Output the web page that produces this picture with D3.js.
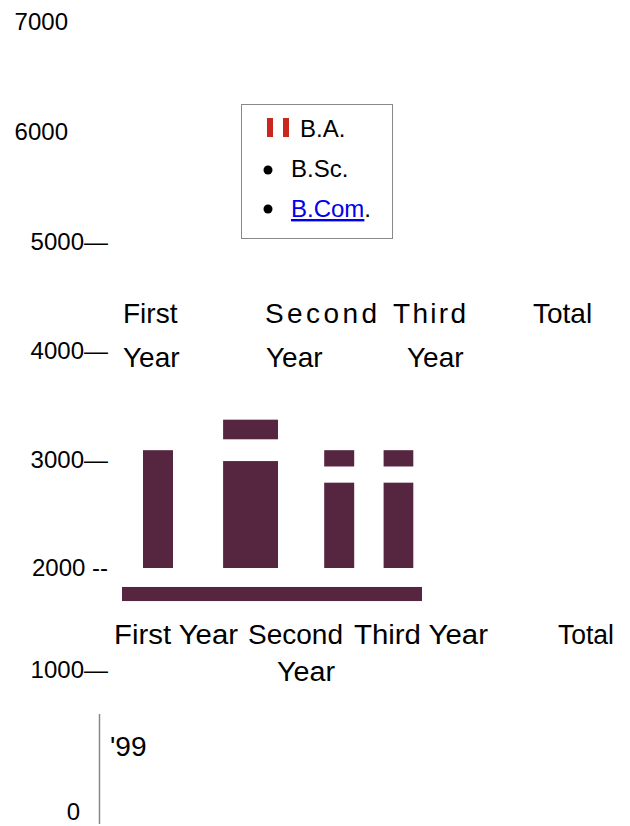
<!DOCTYPE html>
<html>
<head>
<meta charset="utf-8">
<script src="https://cdn.jsdelivr.net/npm/d3@7"></script>
<style>
  html, body { margin: 0; padding: 0; background: #fff; }
  svg { display: block; font-family: "Liberation Sans", Arial, sans-serif; }
</style>
</head>
<body>
<svg id="chart" width="630" height="826"></svg>
<script>
// ---------------- data ----------------
const tickValues = [0, 1000, 2000, 3000, 4000, 5000, 6000, 7000];
const tickLabels = ["0", "1000\u2014", "2000 --", "3000\u2014", "4000\u2014", "5000\u2014", "6000", "7000"];

const categories = ["First Year", "Second Year", "Third Year", "Total"];
// stacked pieces of each column (value bottom / value top)
const barCategory = ["First Year", "Second Year", "Second Year", "Third Year", "Third Year", "Total", "Total"];
const barLow  = [2000, 2000, 3190, 2000, 2940, 2000, 2940];
const barHigh = [3090, 2990, 3370, 2790, 3090, 2790, 3090];
// span of each piece along the category axis (percent of the base)
const barFrom = [7, 33.7, 33.7, 67.4, 67.4, 87.2, 87.2];
const barTo   = [17, 52, 52, 77.4, 77.4, 97.1, 97.1];
// base bar
const baseLow = 1676, baseHigh = 1814;
const baseFrom = 0, baseTo = 100;

const legendLabels = ["B.A.", "B.Sc.", "B.Com"];
const yearLabel = "'99";

// ---------------- layout ----------------
const svg = d3.select("#chart");
const y = d3.scaleLinear()
  .domain(tickValues)
  .range([812, 670, 568, 460, 351, 242, 132, 22]);
const x = d3.scaleLinear().domain([0, 100]).range([122, 422]);
const barColor = "#562540";

// y tick labels
const tickRight = { "0": 80, "6000": 68, "7000": 68 };
svg.append("g").selectAll("text")
  .data(tickValues)
  .join("text")
  .attr("x", (d, i) => tickRight[tickLabels[i]] !== undefined ? tickRight[tickLabels[i]] : 108)
  .attr("y", d => y(d))
  .attr("dy", "0.35em")
  .attr("text-anchor", "end")
  .attr("font-size", 24)
  .attr("fill", "#000")
  .text((d, i) => tickLabels[i]);

// bars
svg.append("g").selectAll("rect")
  .data(barLow)
  .join("rect")
  .attr("x", (d, i) => x(barFrom[i]))
  .attr("width", (d, i) => x(barTo[i]) - x(barFrom[i]))
  .attr("y", (d, i) => y(barHigh[i]))
  .attr("height", (d, i) => y(barLow[i]) - y(barHigh[i]))
  .attr("fill", barColor);

svg.append("rect")
  .attr("x", x(baseFrom))
  .attr("width", x(baseTo) - x(baseFrom))
  .attr("y", y(baseHigh))
  .attr("height", y(baseLow) - y(baseHigh))
  .attr("fill", barColor);

// top category labels (justified block)
const topG = svg.append("g").attr("font-size", 28).attr("fill", "#000");
const topWords = [
  { t: "First", x: 123, line: 0 },
  { t: "Second", x: 265, line: 0, len: 112 },
  { t: "Third", x: 393, line: 0, len: 73 },
  { t: "Total", x: 533, line: 0 },
  { t: "Year", x: 123, line: 1 },
  { t: "Year", x: 266, line: 1 },
  { t: "Year", x: 407, line: 1 }
];
topG.selectAll("text").data(topWords).join("text")
  .attr("x", d => d.x)
  .attr("y", d => 323 + d.line * 44)
  .attr("textLength", d => d.len || null)
  .attr("lengthAdjust", "spacing")
  .text(d => d.t);

// bottom category labels
const botG = svg.append("g").attr("font-size", 27).attr("fill", "#000");
const botWords = [
  { t: "First Year", x: 114, line: 0, len: 124 },
  { t: "Second", x: 248, line: 0, len: 95 },
  { t: "Third Year", x: 354, line: 0, len: 134 },
  { t: "Total", x: 558, line: 0, len: 56 },
  { t: "Year", x: 277, line: 1, len: 58 }
];
botG.selectAll("text").data(botWords).join("text")
  .attr("x", d => d.x)
  .attr("y", d => 644 + d.line * 37)
  .attr("textLength", d => d.len || null)
  .attr("lengthAdjust", "spacingAndGlyphs")
  .text(d => d.t);

// legend
const lg = svg.append("g");
lg.append("rect").attr("x", 241.5).attr("y", 104.5).attr("width", 151).attr("height", 134)
  .attr("fill", "none").attr("stroke", "#888").attr("stroke-width", 1);
lg.append("rect").attr("x", 267).attr("y", 118).attr("width", 6).attr("height", 19).attr("fill", "#c8281e");
lg.append("rect").attr("x", 283).attr("y", 118).attr("width", 6).attr("height", 19).attr("fill", "#c8281e");
lg.append("text").attr("x", 300).attr("y", 137).attr("font-size", 24).text(legendLabels[0]);
lg.append("circle").attr("cx", 268).attr("cy", 170).attr("r", 4.5).attr("fill", "#000");
lg.append("text").attr("x", 291).attr("y", 177).attr("font-size", 24).text(legendLabels[1]);
lg.append("circle").attr("cx", 268).attr("cy", 209).attr("r", 4.5).attr("fill", "#000");
const link = lg.append("text").attr("x", 291).attr("y", 217).attr("font-size", 24);
link.append("tspan").attr("fill", "#0000ee").attr("text-decoration", "underline").text(legendLabels[2]);
link.append("tspan").attr("fill", "#000").text(".");

// year label and divider
svg.append("line").attr("x1", 99.5).attr("x2", 99.5).attr("y1", 714).attr("y2", 824)
  .attr("stroke", "#888").attr("stroke-width", 1.5);
svg.append("text").attr("x", 110).attr("y", 756).attr("font-size", 28).text(yearLabel);
</script>
</body>
</html>
